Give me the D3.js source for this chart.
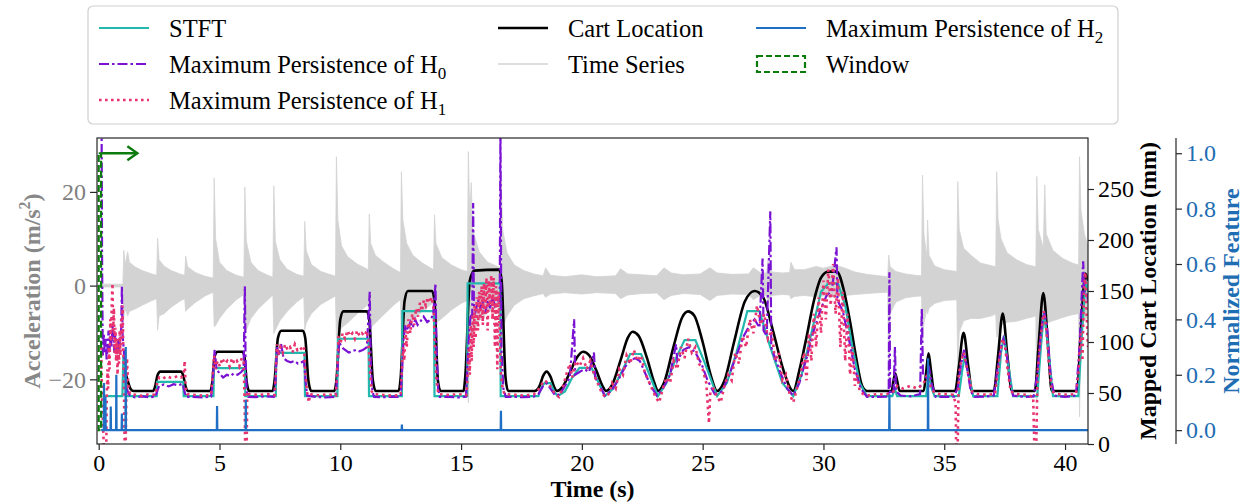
<!DOCTYPE html>
<html>
<head>
<meta charset="utf-8">
<script src="https://cdn.jsdelivr.net/npm/d3@7"></script>
<style>
  body { margin: 0; background: #fff; }
  text { font-family: "Liberation Serif", "Times New Roman", serif; }
</style>
</head>
<body>
<svg id="chart" width="1259" height="504"></svg>
<script>
// ---- Data -------------------------------------------------------------

// Accelerometer signal, summarised as [time (s), upper envelope, lower envelope] in m/s^2
const timeSeriesEnvelope = [
  [0.0,0.3,-0.3],[1.0,0.3,-0.3],
  [1.04,7.5,-6.5],[1.1,4.5,-5.0],[1.2,7.2,-6.5],[1.27,5.0,-5.5],[1.5,4.0,-5.0],[1.8,3.2,-4.2],[2.2,2.5,-3.2],[2.4,2.2,-2.8],
  [2.44,10.1,-9.5],[2.5,5.5,-6.5],[2.7,4.2,-6.0],[3.0,3.2,-4.6],[3.4,2.4,-3.2],[3.56,2.2,-2.8],
  [3.6,6.3,-5.5],[3.68,4.0,-5.0],[4.0,2.8,-3.6],[4.4,2.0,-2.2],[4.74,1.6,-1.4],
  [4.78,23.0,-8.8],[4.84,10.0,-8.5],[5.0,5.0,-7.0],[5.3,3.2,-5.0],[5.7,2.2,-3.0],[6.01,1.8,-1.9],
  [6.05,21.0,-10.9],[6.11,9.5,-9.5],[6.3,5.0,-7.0],[6.6,3.2,-5.0],[7.0,2.2,-3.0],[7.21,1.8,-2.0],
  [7.25,21.3,-10.2],[7.31,9.5,-9.5],[7.5,5.5,-7.5],[7.8,3.5,-5.5],[8.2,2.4,-3.5],[8.49,2.0,-2.4],
  [8.53,13.7,-9.5],[8.59,7.5,-8.0],[8.8,4.5,-6.0],[9.2,3.0,-4.0],[9.8,2.0,-2.2],
  [9.84,27.5,-11.2],[9.9,14.0,-10.5],[10.05,8.5,-9.0],[10.3,6.2,-8.0],[10.7,4.6,-6.0],[11.16,3.4,-4.0],
  [11.2,15.3,-9.5],[11.26,9.0,-9.0],[11.45,6.5,-8.0],[11.8,5.0,-6.2],[12.2,3.6,-4.2],[12.49,2.8,-3.0],
  [12.53,24.3,-12.0],[12.59,14.0,-11.0],[12.75,9.0,-9.0],[13.0,6.5,-7.2],[13.4,4.8,-5.5],[13.86,3.4,-3.6],
  [13.9,15.1,-8.0],[13.96,9.0,-8.0],[14.2,6.0,-7.0],[14.6,4.4,-5.2],[15.0,3.4,-3.8],[15.26,3.0,-3.2],
  [15.3,28.6,-25.0],[15.36,15.0,-14.0],[15.42,22.0,-12.0],[15.48,12.0,-10.0],[15.75,7.2,-7.5],[16.1,5.0,-5.8],[16.62,3.8,-4.2],
  [16.66,22.6,-10.9],[16.72,12.0,-9.0],[16.9,7.0,-6.5],[17.2,4.4,-4.2],[17.6,3.2,-2.8],[18.0,2.5,-2.2],[18.4,2.1,-1.7],
  [18.5,3.8,-2.5],[18.7,2.2,-1.8],[19.3,1.9,-1.5],[20.0,2.3,-1.8],[20.6,1.9,-1.5],[21.4,2.1,-1.7],[21.6,3.6,-2.8],
  [21.9,2.5,-2.0],[22.5,2.3,-1.7],[23.1,2.1,-1.6],[23.4,3.8,-3.0],[23.7,2.7,-2.1],[24.2,2.3,-1.7],[24.9,2.5,-1.9],
  [25.3,3.8,-3.2],[25.6,2.7,-2.1],[26.2,2.4,-1.8],[26.9,2.5,-1.9],[27.1,3.8,-3.0],[27.4,2.7,-2.0],[27.65,2.7,-2.1],
  [27.7,5.3,-3.5],[27.85,2.9,-2.1],[28.3,2.7,-1.9],[28.6,2.8,-2.0],[28.65,5.0,-2.8],[28.8,3.4,-2.3],[29.2,3.4,-2.1],
  [29.7,4.1,-2.4],[30.0,3.7,-2.2],[30.5,4.4,-2.5],[30.9,3.7,-2.1],[31.3,2.9,-1.9],[31.8,2.4,-1.7],[32.3,2.1,-1.5],[32.66,1.9,-1.4],
  [32.7,6.5,-22.0],[32.76,4.0,-6.0],[33.0,3.0,-3.5],[33.4,2.5,-2.6],[33.8,2.2,-2.3],[34.06,2.1,-2.2],
  [34.1,23.6,-12.0],[34.16,11.0,-8.0],[34.28,6.0,-5.0],[34.31,14.0,-6.0],[34.37,6.5,-4.8],[34.6,4.2,-3.8],[35.0,3.4,-3.2],[35.52,3.0,-3.0],
  [35.56,22.2,-18.0],[35.62,12.0,-10.0],[35.8,8.0,-7.5],[36.1,6.5,-7.0],[36.5,4.8,-7.0],[37.0,4.2,-6.4],[37.13,4.0,-6.0],
  [37.17,24.3,-11.0],[37.23,14.0,-10.0],[37.35,10.0,-8.5],[37.6,7.0,-7.8],[38.0,5.5,-7.6],[38.4,4.5,-7.0],[38.79,4.0,-6.5],
  [38.83,23.3,-25.0],[38.89,12.0,-12.0],[39.1,8.0,-9.0],[39.16,21.5,-9.0],[39.22,11.0,-8.0],[39.5,7.5,-7.5],[39.9,5.8,-6.8],[40.3,4.8,-6.2],[40.56,4.4,-6.0],
  [40.6,27.5,-28.0],[40.66,16.0,-9.0],[40.8,11.0,-7.5],[40.95,8.5,-6.8]
];

// Cart position mapped to millimetres: [time (s), mm]
const cartLocation = [
  [1.10,71],[1.2,62],[1.32,54],[1.45,52],
  [2.25,52],[2.33,56],[2.43,67],[2.55,71],[3.4,71],[3.5,67],[3.6,56],[3.7,52],
  [4.62,52],[4.7,60],[4.8,86],[4.92,90.5],[5.95,90.5],[6.03,86],[6.13,60],[6.23,52],
  [7.2,52],[7.28,62],[7.42,104],[7.56,111],[8.45,111],[8.55,104],[8.68,62],[8.8,52],
  [9.75,52],[9.84,62],[10.0,122],[10.13,130],[11.1,130],[11.2,122],[11.35,62],[11.47,52],
  [12.42,52],[12.5,65],[12.66,140],[12.8,150],[13.8,150],[13.9,140],[14.04,62],[14.15,52],
  [15.1,52],[15.18,68],[15.36,160],[15.55,170],[16.58,171],[16.68,160],[16.84,65],[16.95,52],
  [18.05,52],[18.25,57],[18.4,67],[18.54,71],[18.7,66],[18.85,56],[18.97,52],
  [19.2,56],[19.5,70],[19.8,85],[20.05,90.5],[20.3,87],[20.6,72],[20.85,57],[21.0,52],
  [21.25,58],[21.6,82],[21.9,104],[22.1,110],[22.35,106],[22.7,84],[23.0,60],[23.15,52],
  [23.4,60],[23.8,96],[24.15,124],[24.4,130],[24.65,126],[25.0,100],[25.35,66],[25.6,52],
  [25.9,62],[26.3,100],[26.75,140],[27.15,150],[27.5,144],[27.9,112],[28.35,72],[28.75,52],
  [29.0,72],[29.3,105],[29.6,140],[29.9,163],[30.2,169],[30.55,169],[30.85,150],[31.1,120],[31.35,85],[31.6,57],[31.8,52],
  [32.82,52],[32.9,62],[32.97,69],[33.05,62],[33.15,52],
  [34.15,52],[34.25,70],[34.35,89],[34.45,72],[34.58,52],
  [35.45,52],[35.6,75],[35.8,109],[36.0,75],[36.15,52],
  [37.05,52],[37.22,85],[37.42,128],[37.62,85],[37.8,52],
  [38.75,52],[38.9,95],[39.1,148],[39.3,95],[39.45,52],
  [40.5,52],[40.65,110],[40.85,167],[40.95,160]
];

// Short-time Fourier transform feature, normalised: [time (s), value]
const stftFeature = [
  [0.17,0.123],[0.98,0.123],[1.02,0.26],[1.08,0.26],[1.12,0.123],
  [2.4,0.123],[2.42,0.174],[3.5,0.174],[3.52,0.123],
  [4.75,0.123],[4.77,0.224],[6.05,0.224],[6.07,0.123],
  [7.33,0.123],[7.35,0.279],[8.52,0.279],[8.54,0.123],
  [9.88,0.123],[9.9,0.33],[11.17,0.33],[11.19,0.123],
  [12.55,0.123],[12.57,0.43],[13.88,0.43],[13.9,0.123],
  [15.25,0.123],[15.27,0.53],[16.62,0.53],[16.64,0.123],
  [18.2,0.123],[18.3,0.15],[18.45,0.17],[18.7,0.17],[18.85,0.14],[19.0,0.123],
  [19.3,0.14],[19.6,0.19],[19.9,0.225],[20.4,0.225],[20.7,0.17],[20.95,0.123],
  [21.3,0.15],[21.7,0.22],[22.0,0.275],[22.45,0.275],[22.8,0.2],[23.15,0.123],
  [23.5,0.17],[23.9,0.26],[24.25,0.325],[24.7,0.325],[25.1,0.24],[25.6,0.123],
  [26.0,0.17],[26.4,0.28],[26.85,0.43],[27.35,0.43],[27.8,0.3],[28.3,0.17],[28.75,0.123],
  [29.1,0.2],[29.5,0.35],[29.9,0.5],[30.2,0.53],[30.6,0.53],[30.9,0.45],[31.2,0.3],[31.5,0.17],[31.8,0.123],
  [32.85,0.123],[32.95,0.15],[33.05,0.123],
  [34.25,0.123],[34.35,0.2],[34.48,0.15],[34.6,0.123],
  [35.6,0.123],[35.75,0.22],[35.85,0.265],[36.0,0.2],[36.2,0.123],
  [37.2,0.123],[37.35,0.28],[37.47,0.34],[37.62,0.25],[37.85,0.123],
  [38.85,0.123],[39.0,0.3],[39.13,0.43],[39.3,0.3],[39.5,0.123],
  [40.55,0.123],[40.7,0.35],[40.85,0.54],[40.95,0.5]
];

// Maximum persistence of the H0 diagram, normalised: [time (s), value]
const persistenceH0 = [
  [0.12,1.10],[0.14,0.62],[0.17,0.27],[0.21,0.35],[0.25,0.28],[0.29,0.33],[0.33,0.25],[0.37,0.31],[0.41,0.36],
  [0.45,0.29],[0.49,0.34],[0.53,0.30],[0.57,0.38],[0.61,0.33],[0.65,0.28],[0.69,0.35],[0.73,0.31],[0.77,0.27],
  [0.81,0.33],[0.85,0.29],[0.89,0.32],[0.93,0.36],[0.96,0.52],[0.99,0.34],[1.03,0.30],[1.07,0.25],[1.11,0.19],
  [1.15,0.16],[1.2,0.14],[1.3,0.125],
  [1.5,0.118],[1.8,0.122],[2.1,0.119],[2.35,0.121],
  [2.42,0.14],[2.5,0.16],[2.7,0.165],[2.9,0.158],[3.1,0.166],[3.3,0.162],[3.48,0.168],[3.55,0.14],[3.62,0.12],
  [3.9,0.12],[4.3,0.118],[4.65,0.121],
  [4.72,0.17],[4.8,0.29],[4.88,0.22],[5.0,0.205],[5.15,0.19],[5.3,0.2],[5.45,0.195],[5.6,0.205],[5.75,0.2],
  [5.9,0.21],[6.0,0.22],[6.05,0.52],[6.08,0.25],[6.13,0.14],[6.2,0.12],
  [6.5,0.119],[6.9,0.122],[7.25,0.12],
  [7.32,0.18],[7.38,0.3],[7.45,0.27],[7.55,0.31],[7.65,0.26],[7.8,0.25],[7.95,0.245],[8.1,0.25],[8.25,0.24],
  [8.4,0.245],[8.5,0.25],[8.56,0.18],[8.63,0.125],
  [9.0,0.12],[9.4,0.118],[9.8,0.12],
  [9.88,0.2],[9.95,0.32],[10.05,0.3],[10.2,0.29],[10.35,0.28],[10.5,0.285],[10.65,0.29],[10.8,0.285],[10.95,0.29],
  [11.1,0.3],[11.22,0.5],[11.26,0.25],[11.33,0.14],[11.4,0.12],
  [11.8,0.119],[12.2,0.121],[12.5,0.12],
  [12.56,0.22],[12.62,0.33],[12.7,0.38],[12.8,0.36],[12.9,0.39],[13.0,0.37],[13.1,0.4],[13.2,0.38],[13.3,0.39],
  [13.45,0.41],[13.6,0.39],[13.75,0.4],[13.85,0.42],[13.94,0.53],[13.98,0.3],[14.05,0.15],[14.12,0.12],
  [14.5,0.12],[14.9,0.118],[15.2,0.121],
  [15.27,0.25],[15.33,0.35],[15.4,0.42],[15.46,0.4],[15.5,0.82],[15.53,0.45],[15.6,0.43],[15.7,0.47],[15.8,0.44],
  [15.9,0.46],[16.0,0.42],[16.1,0.47],[16.2,0.44],[16.3,0.48],[16.4,0.45],[16.5,0.47],[16.6,0.46],[16.63,1.1],
  [16.67,0.3],[16.75,0.15],[16.85,0.12],
  [17.2,0.12],[17.6,0.119],[18.0,0.121],
  [18.2,0.13],[18.4,0.16],[18.55,0.17],[18.7,0.15],[18.9,0.125],[19.1,0.13],[19.3,0.16],[19.5,0.19],[19.68,0.4],
  [19.72,0.2],[19.9,0.21],[20.1,0.22],[20.3,0.21],[20.5,0.28],[20.55,0.19],[20.75,0.16],[20.95,0.125],[21.2,0.14],
  [21.5,0.18],[21.8,0.23],[22.0,0.25],[22.2,0.26],[22.4,0.25],[22.6,0.21],[22.85,0.16],[23.1,0.125],[23.35,0.15],
  [23.65,0.2],[23.9,0.31],[23.95,0.25],[24.2,0.29],[24.45,0.3],[24.7,0.28],[24.95,0.24],[25.2,0.18],[25.5,0.13],
  [25.8,0.14],[26.1,0.2],[26.4,0.27],[26.7,0.34],[26.95,0.38],[27.15,0.4],[27.35,0.37],[27.48,0.62],[27.52,0.36],
  [27.65,0.34],[27.8,0.79],[27.84,0.3],[28.0,0.26],[28.25,0.2],[28.5,0.15],[28.75,0.125],[29.0,0.17],[29.3,0.26],
  [29.6,0.36],[29.9,0.44],[30.15,0.49],[30.35,0.5],[30.54,0.66],[30.58,0.47],[30.8,0.43],[31.05,0.33],[31.3,0.22],
  [31.55,0.15],[31.8,0.12],
  [32.2,0.12],[32.6,0.121],[32.7,0.125],[32.73,0.57],[32.76,0.13],[32.9,0.14],[32.96,0.30],[33.0,0.14],[33.2,0.125],
  [33.6,0.122],[34.0,0.13],[34.07,0.44],[34.12,0.2],[34.25,0.19],[34.38,0.22],[34.5,0.16],[34.65,0.12],[35.0,0.12],
  [35.4,0.121],[35.55,0.15],[35.7,0.24],[35.82,0.29],[35.95,0.22],[36.1,0.14],[36.25,0.12],[36.7,0.121],[37.05,0.125],
  [37.2,0.22],[37.35,0.3],[37.45,0.33],[37.58,0.28],[37.72,0.17],[37.85,0.125],[38.3,0.12],[38.7,0.122],[38.85,0.2],
  [39.0,0.35],[39.12,0.43],[39.25,0.38],[39.4,0.2],[39.55,0.125],[40.0,0.12],[40.45,0.125],[40.6,0.3],[40.75,0.61],
  [40.8,0.5],[40.9,0.5],[40.98,0.45]
];

// Maximum persistence of the H1 diagram, normalised: [time (s), value]
const persistenceH1 = [
  [0.1,0.3],[0.14,0.12],[0.18,0.02],[0.22,-0.08],[0.27,-0.1],[0.31,-0.1],[0.33,0.1],[0.36,0.22],[0.39,0.15],
  [0.42,0.3],[0.45,0.22],[0.48,0.4],[0.51,0.32],[0.54,0.45],[0.57,0.53],[0.6,0.36],[0.63,0.44],[0.66,0.28],
  [0.69,0.37],[0.72,0.25],[0.75,0.33],[0.78,0.2],[0.81,0.31],[0.84,0.24],[0.87,0.36],[0.9,0.27],[0.93,0.4],
  [0.96,0.33],[0.99,0.45],[1.02,0.28],[1.05,0.12],[1.08,-0.1],[1.11,-0.1],[1.14,0.1],[1.17,0.26],[1.2,0.2],
  [1.24,0.15],[1.3,0.13],
  [1.5,0.128],[1.8,0.124],[2.1,0.13],[2.35,0.127],
  [2.42,0.17],[2.5,0.19],[2.65,0.185],[2.8,0.195],[2.95,0.19],[3.1,0.188],[3.25,0.195],[3.4,0.19],[3.52,0.2],
  [3.56,0.25],[3.6,0.15],[3.66,0.13],
  [4.0,0.127],[4.35,0.124],[4.65,0.128],
  [4.72,0.2],[4.78,0.27],[4.84,0.22],[4.92,0.25],[5.02,0.23],[5.12,0.26],[5.22,0.24],[5.32,0.25],[5.42,0.23],
  [5.52,0.26],[5.62,0.24],[5.72,0.25],[5.82,0.23],[5.92,0.26],[6.0,0.25],[6.04,0.1],[6.07,-0.1],[6.12,-0.1],
  [6.15,0.14],[6.22,0.13],
  [6.6,0.127],[7.0,0.13],[7.28,0.126],
  [7.33,0.2],[7.38,0.31],[7.44,0.27],[7.52,0.3],[7.62,0.28],[7.72,0.31],[7.82,0.29],[7.92,0.3],[8.02,0.28],
  [8.12,0.31],[8.22,0.29],[8.32,0.3],[8.42,0.29],[8.5,0.3],[8.56,0.2],[8.62,0.14],[8.7,0.1],[8.75,0.13],
  [9.1,0.126],[9.5,0.129],[9.82,0.125],
  [9.87,0.22],[9.93,0.34],[10.0,0.31],[10.1,0.35],[10.2,0.33],[10.3,0.36],[10.4,0.34],[10.5,0.35],[10.6,0.33],
  [10.7,0.36],[10.8,0.34],[10.9,0.35],[11.0,0.34],[11.1,0.36],[11.18,0.3],[11.24,0.2],[11.3,0.14],[11.38,0.13],
  [11.8,0.127],[12.2,0.124],[12.5,0.128],
  [12.55,0.22],[12.6,0.3],[12.65,0.25],[12.7,0.36],[12.75,0.3],[12.82,0.4],[12.9,0.35],[12.98,0.42],[13.06,0.38],
  [13.14,0.44],[13.22,0.41],[13.3,0.46],[13.38,0.43],[13.46,0.47],[13.54,0.45],[13.62,0.48],[13.7,0.46],[13.78,0.48],
  [13.86,0.44],[13.92,0.3],[13.98,0.18],[14.06,0.13],
  [14.5,0.127],[14.9,0.13],[15.22,0.126],
  [15.27,0.2],[15.32,0.3],[15.36,0.2],[15.4,0.38],[15.44,0.25],[15.48,0.42],[15.52,0.3],[15.56,0.45],[15.6,0.33],
  [15.65,0.48],[15.7,0.36],[15.75,0.5],[15.8,0.4],[15.85,0.52],[15.9,0.38],[15.95,0.53],[16.0,0.42],[16.05,0.55],
  [16.1,0.36],[16.15,0.54],[16.2,0.45],[16.25,0.56],[16.3,0.4],[16.35,0.55],[16.4,0.3],[16.45,0.52],[16.5,0.22],
  [16.55,0.5],[16.6,0.35],[16.65,0.2],[16.72,0.15],[16.8,0.13],
  [17.2,0.128],[17.6,0.125],[18.0,0.129],
  [18.15,0.14],[18.3,0.16],[18.45,0.18],[18.6,0.17],[18.75,0.15],[18.9,0.13],[19.05,0.12],[19.2,0.15],[19.35,0.2],
  [19.5,0.24],[19.6,0.19],[19.75,0.25],[19.9,0.23],[20.05,0.26],[20.2,0.22],[20.35,0.25],[20.5,0.2],[20.65,0.17],
  [20.8,0.14],[20.95,0.12],[21.1,0.13],[21.25,0.17],[21.4,0.15],[21.55,0.22],[21.7,0.2],[21.85,0.27],[22.0,0.24],
  [22.15,0.29],[22.3,0.25],[22.45,0.27],[22.6,0.21],[22.75,0.18],[22.9,0.15],[23.05,0.12],[23.2,0.1],[23.35,0.15],
  [23.5,0.19],[23.65,0.17],[23.8,0.25],[23.95,0.22],[24.1,0.3],[24.25,0.26],[24.4,0.33],[24.55,0.28],[24.7,0.3],
  [24.85,0.24],[25.0,0.22],[25.15,0.17],[25.26,0.025],[25.32,0.14],[25.45,0.15],[25.6,0.12],[25.75,0.1],[25.9,0.16],
  [26.05,0.2],[26.2,0.18],[26.35,0.28],[26.5,0.24],[26.65,0.34],[26.8,0.3],[26.95,0.4],[27.1,0.35],[27.25,0.45],
  [27.4,0.38],[27.55,0.42],[27.7,0.33],[27.85,0.36],[28.0,0.25],[28.15,0.28],[28.3,0.18],[28.45,0.2],[28.6,0.13],
  [28.75,0.1],[28.9,0.15],[29.05,0.2],[29.2,0.28],[29.3,0.18],[29.4,0.35],[29.5,0.25],[29.6,0.42],[29.7,0.3],
  [29.8,0.48],[29.9,0.35],[30.0,0.54],[30.1,0.4],[30.2,0.58],[30.3,0.45],[30.4,0.6],[30.5,0.42],[30.6,0.55],
  [30.7,0.3],[30.8,0.5],[30.9,0.25],[31.0,0.42],[31.1,0.2],[31.2,0.3],[31.3,0.16],[31.4,0.2],[31.5,0.14],
  [31.65,0.13],[31.8,0.125],
  [32.2,0.13],[32.6,0.128],[32.9,0.14],[33.05,0.16],[33.3,0.15],[33.6,0.16],[33.9,0.15],[34.15,0.17],[34.3,0.2],
  [34.42,0.16],[34.55,0.14],[34.8,0.13],[35.1,0.13],[35.35,0.128],[35.47,0.1],[35.5,-0.1],[35.55,-0.1],[35.6,0.2],
  [35.7,0.25],[35.8,0.28],[35.9,0.24],[36.0,0.2],[36.15,0.14],[36.4,0.13],[36.8,0.128],[37.1,0.13],[37.2,0.2],
  [37.3,0.27],[37.42,0.33],[37.52,0.3],[37.62,0.22],[37.75,0.14],[38.0,0.13],[38.4,0.128],[38.68,0.12],[38.74,-0.1],
  [38.8,-0.1],[38.86,0.2],[38.95,0.3],[39.05,0.38],[39.12,0.43],[39.22,0.37],[39.32,0.25],[39.45,0.14],[39.7,0.13],
  [40.1,0.128],[40.45,0.13],[40.55,0.2],[40.65,0.35],[40.72,0.25],[40.78,0.5],[40.84,0.57],[40.9,0.4],[40.95,0.3]
];

// Maximum persistence of the H2 diagram, normalised: [time (s), value]
const persistenceH2 = [
  [0.1,0],[0.21,0],[0.22,0.17],[0.23,0],[0.27,0],[0.28,0.12],[0.29,0],[0.49,0],[0.5,0.085],[0.51,0],
  [0.72,0],[0.73,0.2],[0.74,0],[0.95,0],[0.96,0.06],[0.97,0],[1.11,0],[1.12,0.3],[1.13,0],
  [4.89,0],[4.9,0.087],[4.91,0],[6.08,0],[6.09,0.11],[6.1,0],[12.54,0],[12.55,0.02],[12.56,0],
  [16.64,0],[16.65,0.07],[16.66,0],[32.72,0],[32.73,0.13],[32.74,0],[34.32,0],[34.33,0.26],[34.34,0],[40.98,0]
];

// Sliding window: time span (s) and normalised height, plus the direction arrow end time
const windowSpan = [0, 0.1];
const windowHeight = [0, 1];
const windowArrowEnd = 1.6;

// Axis ticks
const timeTicks = [0, 5, 10, 15, 20, 25, 30, 35, 40];
const accelerationTicks = [-20, 0, 20];
const cartTicks = [0, 50, 100, 150, 200, 250];
const featureTicks = [0, 0.2, 0.4, 0.6, 0.8, 1.0];

// ---- Layout and styles -------------------------------------------------
const plot = { left: 97, right: 1088, top: 138, bottom: 444 };
const featureAxisX = 1176;
const colors = {
  stft: "#22b8ad", h0: "#7a12d4", h1: "#e8336e", cart: "#000000",
  series: "#d3d3d3", h2: "#1f6fc4", window: "#0d7a0d",
  featureText: "#1f6db3", accText: "#888888", frame: "#262626"
};
const FONT = 24;
const LEGEND_FONT = 24.5;

const svg = d3.select("#chart");

const x = d3.scaleLinear().domain([-0.07, 40.95]).range([plot.left, plot.right]);
const yAcc = d3.scaleLinear().domain([-33.8, 31.5]).range([plot.bottom, plot.top]);
const yCart = d3.scaleLinear().domain([0, 300]).range([plot.bottom, plot.top]);
const yNorm = d3.scaleLinear().domain([-0.05, 1.055]).range([plot.bottom, plot.top]);

svg.append("defs").append("clipPath").attr("id", "plot-clip")
  .append("rect")
  .attr("x", plot.left).attr("y", plot.top)
  .attr("width", plot.right - plot.left).attr("height", plot.bottom - plot.top);

svg.select("defs").append("marker")
  .attr("id", "arrow-head")
  .attr("markerUnits", "userSpaceOnUse")
  .attr("markerWidth", 16).attr("markerHeight", 18)
  .attr("refX", 12).attr("refY", 9)
  .attr("orient", "auto")
  .append("path")
  .attr("d", "M2,2 L12,9 L2,16")
  .attr("fill", "none")
  .attr("stroke", colors.window)
  .attr("stroke-width", 2.4);

const layer = svg.append("g").attr("clip-path", "url(#plot-clip)");

// Acceleration signal
layer.append("path")
  .datum(timeSeriesEnvelope)
  .attr("d", d3.area().x(d => x(d[0])).y0(d => yAcc(d[2])).y1(d => yAcc(d[1])))
  .attr("fill", colors.series)
  .attr("stroke", colors.series)
  .attr("stroke-width", 0.8);

// Cart location
layer.append("path")
  .datum(cartLocation)
  .attr("d", d3.line().x(d => x(d[0])).y(d => yCart(d[1])).curve(d3.curveMonotoneX))
  .attr("fill", "none").attr("stroke", colors.cart).attr("stroke-width", 2.6);

const featureLine = d3.line().x(d => x(d[0])).y(d => yNorm(d[1]));

layer.append("path").datum(stftFeature).attr("d", featureLine)
  .attr("fill", "none").attr("stroke", colors.stft).attr("stroke-width", 2.2);

layer.append("path").datum(persistenceH0).attr("d", featureLine)
  .attr("fill", "none").attr("stroke", colors.h0).attr("stroke-width", 2.2)
  .attr("stroke-dasharray", "10,3,2.5,3");

layer.append("path").datum(persistenceH1).attr("d", featureLine)
  .attr("fill", "none").attr("stroke", colors.h1).attr("stroke-width", 2.6)
  .attr("stroke-dasharray", "2.6,3.8");

layer.append("path").datum(persistenceH2).attr("d", featureLine)
  .attr("fill", "none").attr("stroke", colors.h2).attr("stroke-width", 2.2);

// Window and its direction of travel
layer.append("rect")
  .attr("x", x(windowSpan[0])).attr("y", yNorm(windowHeight[1]))
  .attr("width", x(windowSpan[1]) - x(windowSpan[0]))
  .attr("height", yNorm(windowHeight[0]) - yNorm(windowHeight[1]))
  .attr("fill", "none").attr("stroke", colors.window).attr("stroke-width", 2.2)
  .attr("stroke-dasharray", "7,3");

svg.append("line")
  .attr("x1", x(windowSpan[1]) + 1).attr("x2", x(windowArrowEnd))
  .attr("y1", yNorm(windowHeight[1])).attr("y2", yNorm(windowHeight[1]))
  .attr("stroke", colors.window).attr("stroke-width", 2.4)
  .attr("marker-end", "url(#arrow-head)");

// Frame
svg.append("rect")
  .attr("x", plot.left).attr("y", plot.top)
  .attr("width", plot.right - plot.left).attr("height", plot.bottom - plot.top)
  .attr("fill", "none").attr("stroke", colors.frame).attr("stroke-width", 1.2);

// ---- Axes --------------------------------------------------------------
function styleAxis(g, color) {
  g.select(".domain").remove();
  g.selectAll(".tick line").attr("stroke", colors.frame).attr("stroke-width", 1.2);
  g.selectAll(".tick text")
    .attr("fill", color)
    .style("font-family", '"Liberation Serif", "Times New Roman", serif')
    .style("font-size", FONT + "px");
}

const minus = d => (d < 0 ? "\u2212" + Math.abs(d) : String(d));

svg.append("g")
  .attr("transform", `translate(0,${plot.bottom})`)
  .call(d3.axisBottom(x).tickValues(timeTicks).tickFormat(d3.format("d")).tickSize(6).tickPadding(4))
  .call(g => styleAxis(g, "#000"));

svg.append("g")
  .attr("transform", `translate(${plot.left},0)`)
  .call(d3.axisLeft(yAcc).tickValues(accelerationTicks).tickFormat(minus).tickSize(7).tickPadding(4))
  .call(g => styleAxis(g, "#808080"));

svg.append("g")
  .attr("transform", `translate(${plot.right},0)`)
  .call(d3.axisRight(yCart).tickValues(cartTicks).tickFormat(d3.format("d")).tickSize(6).tickPadding(4))
  .call(g => styleAxis(g, "#000"));

const featureAxis = svg.append("g")
  .attr("transform", `translate(${featureAxisX},0)`)
  .call(d3.axisRight(yNorm).tickValues(featureTicks).tickFormat(d3.format(".1f")).tickSize(6).tickPadding(4))
  .call(g => styleAxis(g, colors.featureText));
featureAxis.append("line")
  .attr("x1", 0).attr("x2", 0).attr("y1", plot.top).attr("y2", plot.bottom)
  .attr("stroke", colors.frame).attr("stroke-width", 1.2);

// Axis titles
svg.append("text")
  .attr("x", (plot.left + plot.right) / 2).attr("y", 497)
  .attr("text-anchor", "middle").attr("font-size", FONT).attr("font-weight", "bold")
  .text("Time (s)");

const accTitle = svg.append("text")
  .attr("transform", `translate(40,${(plot.top + plot.bottom) / 2}) rotate(-90)`)
  .attr("text-anchor", "middle").attr("font-size", FONT).attr("font-weight", "bold")
  .attr("fill", colors.accText);
accTitle.append("tspan").text("Acceleration (m/s");
accTitle.append("tspan").attr("dy", -10).attr("font-size", 16).text("2");
accTitle.append("tspan").attr("dy", 10).text(")");

svg.append("text")
  .attr("transform", `translate(1156,${(plot.top + plot.bottom) / 2}) rotate(-90)`)
  .attr("text-anchor", "middle").attr("font-size", FONT).attr("font-weight", "bold")
  .text("Mapped Cart Location (mm)");

svg.append("text")
  .attr("transform", `translate(1239,${(plot.top + plot.bottom) / 2}) rotate(-90)`)
  .attr("text-anchor", "middle").attr("font-size", FONT).attr("font-weight", "bold")
  .attr("fill", colors.featureText)
  .text("Normalized Feature");

// ---- Legend ------------------------------------------------------------
const legendEntries = [
  { label: "STFT", sub: null, color: colors.stft, dash: null, width: 2.2 },
  { label: "Maximum Persistence of H", sub: "0", color: colors.h0, dash: "10,3,2.5,3", width: 2.2 },
  { label: "Maximum Persistence of H", sub: "1", color: colors.h1, dash: "2.6,3.4", width: 2.6 },
  { label: "Cart Location", sub: null, color: colors.cart, dash: null, width: 2.6 },
  { label: "Time Series", sub: null, color: colors.series, dash: null, width: 1.6 },
  { label: "Maximum Persistence of H", sub: "2", color: colors.h2, dash: null, width: 2.2 },
  { label: "Window", sub: null, color: colors.window, dash: "6,3", width: 2.2, patch: true }
];
const legendColumns = [[0, 1, 2], [3, 4], [5, 6]];
const legendColumnX = [99, 498, 756];
const legendRowY = [28, 64, 100];
const handleLength = 50;
const handleGap = 20;

svg.append("rect")
  .attr("x", 88).attr("y", 6).attr("width", 1118 - 88).attr("height", 124 - 6)
  .attr("rx", 5).attr("fill", "#fff").attr("stroke", "#d0d0d0").attr("stroke-width", 1.2);

legendColumns.forEach((col, ci) => {
  col.forEach((ei, ri) => {
    const e = legendEntries[ei];
    const x0 = legendColumnX[ci];
    const yc = legendRowY[ri];
    if (e.patch) {
      svg.append("rect")
        .attr("x", x0 + 1).attr("y", yc - 8).attr("width", handleLength - 2).attr("height", 16)
        .attr("fill", "none").attr("stroke", e.color).attr("stroke-width", e.width)
        .attr("stroke-dasharray", e.dash);
    } else {
      svg.append("line")
        .attr("x1", x0).attr("x2", x0 + handleLength).attr("y1", yc).attr("y2", yc)
        .attr("stroke", e.color).attr("stroke-width", e.width)
        .attr("stroke-dasharray", e.dash);
    }
    const t = svg.append("text")
      .attr("x", x0 + handleLength + handleGap).attr("y", yc + 8.5)
      .attr("font-size", LEGEND_FONT);
    t.append("tspan").text(e.label);
    if (e.sub) t.append("tspan").attr("dy", 6).attr("font-size", 17).text(e.sub);
  });
});
</script>
</body>
</html>
